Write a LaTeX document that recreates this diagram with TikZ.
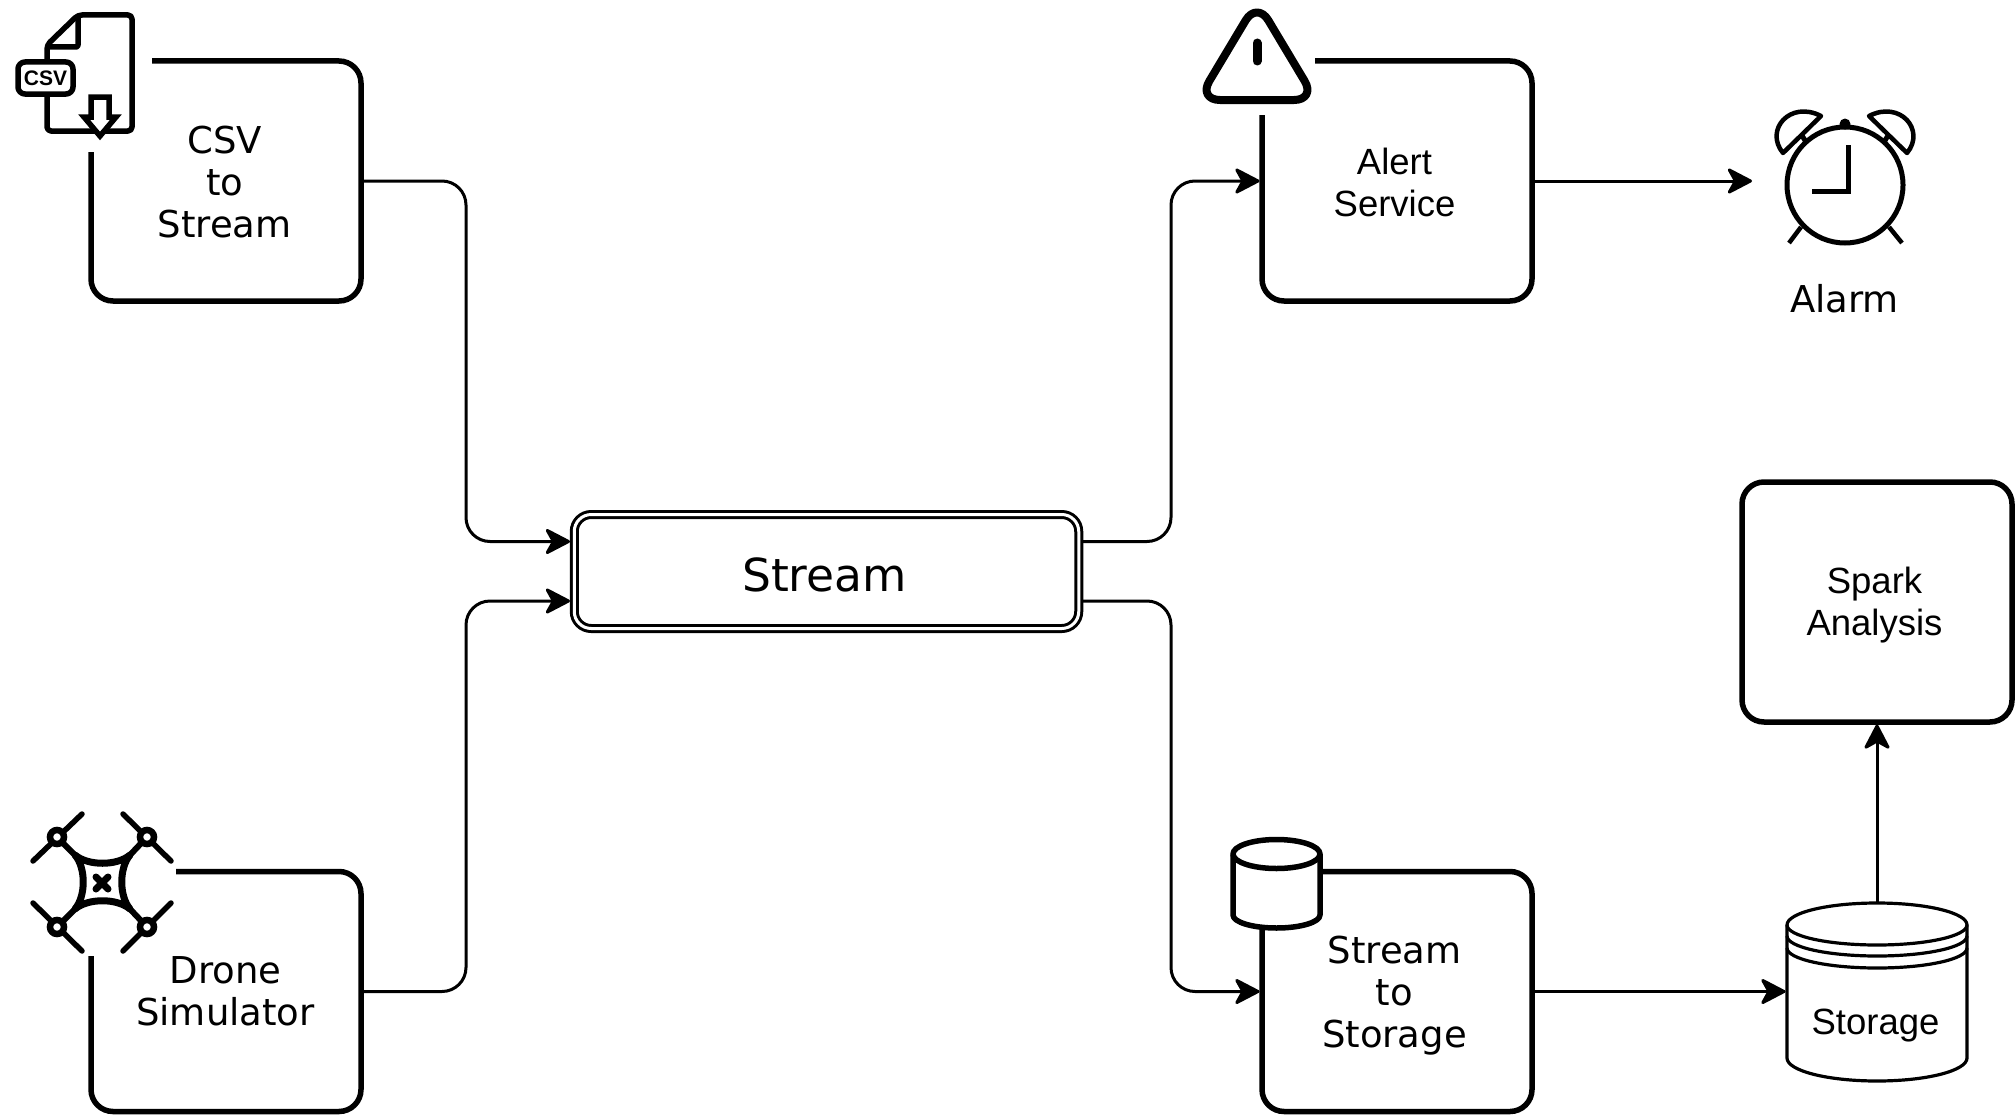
\documentclass[tikz,border=0pt]{standalone}
\usepackage{fontspec}
\setmainfont{DejaVu Sans}
\newfontfamily\lib{Liberation Sans}
\usetikzlibrary{arrows.meta,calc}
\tikzset{
  boxnode/.style={draw=black,fill=white,rectangle,rounded corners=22pt,line width=5.5pt,
    minimum width=270pt,minimum height=240pt,inner sep=0pt,outer sep=0pt},
  dv/.style={font=\fontsize{37}{42}\selectfont,inner sep=0pt,align=center},
  ar/.style={font=\lib\fontsize{36.5}{42}\selectfont,inner sep=0pt,align=center},
  conn/.style={draw=black,line width=3pt,rounded corners=24pt,
    -{Stealth[length=28pt,width=29pt,inset=8pt,round=false]}},
  mask/.style={fill=white,draw=none},
  icon/.style={draw=black,line width=5.5pt,line join=round,fill=white},
  stroke/.style={draw=black,line cap=round,line join=round},
  rotor/.style={draw=black,line width=5.5pt,line cap=round},
  motor/.style={draw=black,line width=6.5pt,fill=white},
  cyl/.style={draw=black,line width=3.2pt,fill=white,line join=round},
}
\begin{document}
\begin{tikzpicture}[x=1pt,y=-1pt]
\useasboundingbox (0,0) rectangle (2016,1116);
\fill[white] (0,0) rectangle (2016,1116);

% ---- boxes
\node[boxnode] (csv) at (226,181) {};
\node[boxnode] (drone) at (226,991.5) {};
\node[boxnode] (alert) at (1397,181) {};
\node[boxnode] (tostore) at (1397,991.5) {};
\node[boxnode] (spark) at (1877,602) {};
\node[dv] (csvtext) at ($(csv.center)+(-1.3,1.5)$) {CSV\\to\\Stream};
\node[dv] (dronetext) at ($(drone.center)+(-0.5,0)$) {Drone\\Simulator};
\node[ar] (alerttext) at ($(alert.center)+(-2.5,1.3)$) {Alert\\Service};
\node[dv] (tostoretext) at ($(tostore.center)+(-2.5,4)$) {Stream\\to\\Storage};
\node[ar] (sparktext) at ($(spark.center)+(-2.5,3.5)$) {Spark\\Analysis};
\node[draw=black,fill=white,rectangle,rounded corners=17pt,line width=3pt,double,double distance=3pt,
  minimum width=504.5pt,minimum height=114pt,inner sep=0pt,outer sep=0pt] (stream) at (826.5,571.5) {};
\node[inner sep=0pt,font=\fontsize{45.5}{50}\selectfont] (streamtext) at ($(stream.center)+(-2,3)$) {Stream};

% ---- storage drum
\node[minimum width=180pt,minimum height=179pt,inner sep=0pt,outer sep=0pt] (storage) at (1877,991.5) {};
\path[cyl] (1787,925) arc[start angle=180,end angle=0,x radius=90pt,y radius=22pt]
  -- (1967,1058) arc[start angle=0,end angle=-180,x radius=90pt,y radius=23pt] -- cycle;
\draw[cyl,fill=none] (1787,925) arc[start angle=180,end angle=360,x radius=90pt,y radius=20pt];
\draw[cyl,fill=none] (1787,936) arc[start angle=180,end angle=360,x radius=90pt,y radius=20pt];
\draw[cyl,fill=none] (1787,948) arc[start angle=180,end angle=360,x radius=90pt,y radius=20pt];
\node[ar,anchor=base] (storagelabel) at (1875.5,1034) {Storage};

% ---- alarm label
\node[dv,anchor=base] (alarmlabel) at (1844.5,312) {Alarm};

% ---- connector ports
\coordinate (in1) at (570,541.5);
\coordinate (in2) at (570,601);
\coordinate (out1) at (1083,541.5);
\coordinate (out2) at (1083,601);
\coordinate (alarmin) at (1752,181);
\coordinate (alertin) at ($(alert.west)+(-2.5,0)$);
\coordinate (storein) at ($(tostore.west)+(-2.5,0)$);
\coordinate (drumin) at ($(storage.west)+(-1.5,0)$);
\coordinate (sparkin) at ($(spark.south)+(0,2.5)$);

\draw[conn] (csv.east) -- (466,181) -- (466,541.5) -- (in1);
\draw[conn] (drone.east) -- (466,991.5) -- (466,601) -- (in2);
\draw[conn] (out1) -- (1171,541.5) -- (1171,181) -- (alertin);
\draw[conn] (out2) -- (1171,601) -- (1171,991.5) -- (storein);
\draw[conn] (alert.east) -- (alarmin);
\draw[conn] (tostore.east) -- (drumin);
\draw[conn] (storage.north) -- (sparkin);

% ---- CSV icon
\fill[mask] (85,55) rectangle (152,152);
\draw[icon,rounded corners=4pt] (47,45) -- (78,15) -- (132,15) -- (132,131) -- (47,131) -- cycle;
\draw[icon,fill=none,rounded corners=2pt] (78,15) -- (78,47) -- (47,47);
\draw[icon,rounded corners=7pt] (18,62) rectangle (73,94);
\node[inner sep=0pt,font=\lib\bfseries\fontsize{21}{21}\selectfont] (csvtag) at (45.5,78) {CSV};
\draw[icon,line join=miter] (91,97) -- (109,97) -- (109,117) -- (116,117) -- (100,136) -- (84,117) -- (91,117) -- cycle;

% ---- Alert icon
\fill[mask] (1255,55) rectangle (1315,115);
\draw[icon,line width=8pt,rounded corners=22pt] (1257,1.4) -- (1316,100) -- (1198,100) -- cycle;
\draw[stroke,line width=9pt] (1257,43) -- (1257,61);

% ---- Drone icon
\fill[mask] (86,867) rectangle (176,956);
\draw[rotor] (82,814) -- (33,861);
\draw[rotor] (123,814) -- (171,861);
\draw[rotor] (33,903) -- (82,951);
\draw[rotor] (171,903) -- (123,951);
\draw[stroke,line width=6pt] (57,837) -- (75,855) (147,837) -- (130,855) (57,927) -- (75,909) (147,927) -- (130,909);
\draw[stroke,line width=7pt,fill=white] (75,855) .. controls (88,866) and (117,866) .. (130,855)
  .. controls (119,868) and (119,896) .. (130,909)
  .. controls (117,898) and (88,898) .. (75,909)
  .. controls (86,896) and (86,868) .. (75,855) -- cycle;
\draw[stroke,line width=7pt] (96,877) -- (108,889) (108,877) -- (96,889);
\foreach \mx/\my in {57/837,147/837,57/927,147/927}{\draw[motor] (\mx,\my) circle[radius=7pt];}

% ---- Alarm icon
\draw[icon,line width=5pt] (1845,185) circle[radius=58pt];
\fill (1845,124) circle[radius=5.5pt];
\draw[draw=black,line width=5pt,line join=miter] (1848,145) -- (1848,191) -- (1812,191);
\draw[stroke,line width=4.5pt,line cap=butt] (1801,227) -- (1789,243) (1889,227) -- (1902,243);
\draw[stroke,line width=5pt,line cap=butt] (1801,134) -- (1806,142) (1889,134) -- (1884,142);
\draw[icon,line width=4.5pt] (1783,153) .. controls (1764,130) and (1790,100) .. (1821,116) -- cycle;
\draw[icon,line width=4.5pt] (1907,153) .. controls (1926,130) and (1900,100) .. (1869,116) -- cycle;

% ---- Cylinder icon
\path[draw=black,fill=white,line width=5.5pt,line join=round] (1233,854) -- (1233,915)
  arc[start angle=180,end angle=360,x radius=43.5pt,y radius=13pt] -- (1320,854)
  arc[start angle=0,end angle=180,x radius=43.5pt,y radius=14.5pt] -- cycle;
\draw[draw=black,line width=5.5pt] (1233,854) arc[start angle=180,end angle=360,x radius=43.5pt,y radius=14.5pt];
\end{tikzpicture}
\end{document}
